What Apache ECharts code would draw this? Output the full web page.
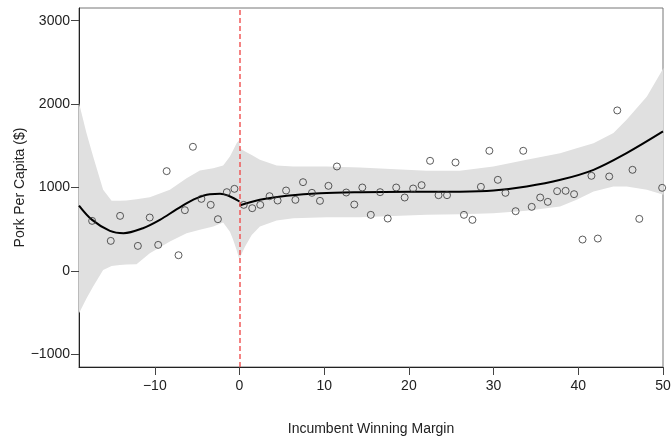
<!DOCTYPE html>
<html>
<head>
<meta charset="utf-8">
<script src="https://cdn.jsdelivr.net/npm/echarts@6/dist/echarts.min.js"></script>
<style>
  html, body { margin: 0; padding: 0; background: #fff; }
  #chart { width: 671px; height: 438px; }
</style>
</head>
<body>
<div id="chart"></div>
<script>
  // scatter: incumbent winning margin vs pork per capita
  var pointX = [-17.4, -15.2, -14.1, -12.0, -10.6, -9.6, -8.6, -7.2, -6.45, -5.5, -4.5, -3.4, -2.55, -1.5, -0.6,
    0.5, 1.5, 2.45, 3.55, 4.5, 5.5, 6.6, 7.5, 8.55, 9.5, 10.5, 11.5, 12.6, 13.55, 14.5, 15.5, 16.6, 17.5, 18.5, 19.5,
    20.5, 21.5, 22.5, 23.5, 24.5, 25.5, 26.5, 27.5, 28.5, 29.5, 30.5, 31.4, 32.6, 33.5, 34.5, 35.5, 36.4, 37.5, 38.5,
    39.5, 40.5, 41.55, 42.3, 43.65, 44.6, 46.4, 47.2, 49.9]
  var pointY = [600, 360, 660, 300, 640, 312, 1196, 188, 728, 1488, 864, 792, 620, 944, 984,
    792, 752, 792, 896, 844, 964, 852, 1064, 936, 840, 1020, 1252, 940, 796, 1000, 672, 944, 628, 1000, 880,
    988, 1028, 1320, 908, 908, 1300, 672, 612, 1008, 1440, 1092, 936, 716, 1440, 768, 880, 828, 956, 960,
    920, 376, 1140, 388, 1132, 1924, 1212, 624, 996]

  // fitted curve, left and right of the cutoff
  var fitLeftX = [-18.95, -17.4, -15.3, -13.7, -11.4, -9.4, -7.4, -5.5, -3.5, -2.3, -1.1, 0]
  var fitLeftY = [784, 612, 480, 452, 512, 612, 740, 852, 920, 924, 892, 832]
  var fitRightX = [0, 2.4, 5.6, 9.5, 14.2, 20, 26, 30, 33.9, 37.9, 41.8, 45.7, 50]
  var fitRightY = [784, 852, 900, 932, 944, 948, 950, 964, 1012, 1092, 1212, 1412, 1672]

  // confidence band
  var bandLeftX = [-18.95, -18.07, -17.28, -16.1, -15.1, -14.13, -13.34, -12.16, -10.59, -8.22, -6.25, -4.68, -3.1, -1.93, -1.13, -0.74, -0.34, 0]
  var bandLeftLow = [-508, -330, -188, 12, 60, 72, 78, 80, 212, 352, 452, 492, 532, 580, 470, 372, 250, 132]
  var bandLeftHigh = [2012, 1652, 1372, 972, 840, 840, 845, 860, 884, 972, 1112, 1204, 1232, 1264, 1372, 1450, 1532, 1572]
  var bandRightX = [0, 0.66, 1.44, 2.41, 4.38, 6.35, 10.29, 14.2, 22.1, 26.0, 29.97, 33.9, 37.85, 39.8, 41.8, 44.15, 45.7, 48.1, 50.06]
  var bandRightLow = [152, 292, 432, 532, 604, 632, 644, 644, 672, 680, 692, 720, 772, 852, 952, 1012, 1012, 972, 912]
  var bandRightHigh = [1472, 1432, 1390, 1332, 1264, 1252, 1252, 1240, 1200, 1200, 1252, 1332, 1412, 1470, 1532, 1652, 1812, 2092, 2432]

  var xTicks = [-10, 0, 10, 20, 30, 40, 50]
  var yTicks = [-1000, 0, 1000, 2000, 3000]

  function pairs(xs, ys) {
    return xs.map(function (x, i) { return [x, ys[i]] })
  }
  function minus(v) {
    return String(v).replace('-', '\u2212')
  }

  var bands = [
    { x: bandLeftX, lo: bandLeftLow, hi: bandLeftHigh },
    { x: bandRightX, lo: bandRightLow, hi: bandRightHigh }
  ]

  var chart = echarts.init(document.getElementById('chart'))
  var font = 'Liberation Sans, Arial, sans-serif'
  chart.setOption({
    animation: false,
    grid: {
      left: 79, right: 8, top: 8, bottom: 71,
      outerBoundsMode: 'none',
      show: true, borderColor: '#777', borderWidth: 1
    },
    xAxis: {
      type: 'value',
      min: -18.95,
      max: 50,
      name: 'Incumbent Winning Margin',
      nameLocation: 'middle',
      nameGap: 55,
      nameTextStyle: { color: '#222', fontSize: 14, fontFamily: font },
      axisLine: { show: true, onZero: false, lineStyle: { color: '#222', width: 1 } },
      axisTick: { show: true, length: 8, customValues: xTicks, lineStyle: { color: '#444' } },
      axisLabel: {
        customValues: xTicks, color: '#222', fontSize: 14, fontFamily: font, margin: 12,
        formatter: minus
      },
      splitLine: { show: false }
    },
    yAxis: {
      type: 'value',
      min: -1152,
      max: 3152,
      name: 'Pork Per Capita ($)',
      nameLocation: 'middle',
      nameGap: 52,
      nameMoveOverlap: false,
      nameTextStyle: { color: '#222', fontSize: 14, fontFamily: font },
      axisLine: { show: true, onZero: false, lineStyle: { color: '#222', width: 1 } },
      axisTick: { show: true, length: 8, customValues: yTicks, lineStyle: { color: '#444' } },
      axisLabel: {
        customValues: yTicks, color: '#222', fontSize: 14, fontFamily: font, margin: 9,
        formatter: minus
      },
      splitLine: { show: false }
    },
    series: [
      {
        type: 'custom',
        z: 1,
        silent: true,
        data: [[0, 0], [0, 0]],
        encode: { x: 0, y: 1 },
        renderItem: function (params, api) {
          var b = bands[params.dataIndex]
          var pts = []
          b.x.forEach(function (x, i) { pts.push(api.coord([x, b.hi[i]])) })
          for (var i = b.x.length - 1; i >= 0; i--) pts.push(api.coord([b.x[i], b.lo[i]]))
          return {
            type: 'polygon',
            shape: { points: pts, smooth: 0 },
            style: { fill: '#e0e0e0', stroke: null }
          }
        }
      },
      {
        type: 'line',
        z: 3,
        data: pairs(fitLeftX, fitLeftY),
        showSymbol: false,
        smooth: 0.35,
        lineStyle: { color: '#000', width: 2 },
        markLine: {
          silent: true,
          z: 5,
          symbol: 'none',
          label: { show: false },
          lineStyle: { color: '#f04848', type: [5, 3], width: 1.5, opacity: 0.9 },
          data: [{ xAxis: 0 }]
        }
      },
      {
        type: 'line',
        z: 3,
        data: pairs(fitRightX, fitRightY),
        showSymbol: false,
        smooth: 0.35,
        lineStyle: { color: '#000', width: 2 }
      },
      {
        type: 'scatter',
        z: 4,
        data: pairs(pointX, pointY),
        symbol: 'circle',
        symbolSize: 7,
        itemStyle: { color: 'rgba(0,0,0,0)', borderColor: '#333', borderWidth: 1 }
      }
    ]
  })
</script>
</body>
</html>
